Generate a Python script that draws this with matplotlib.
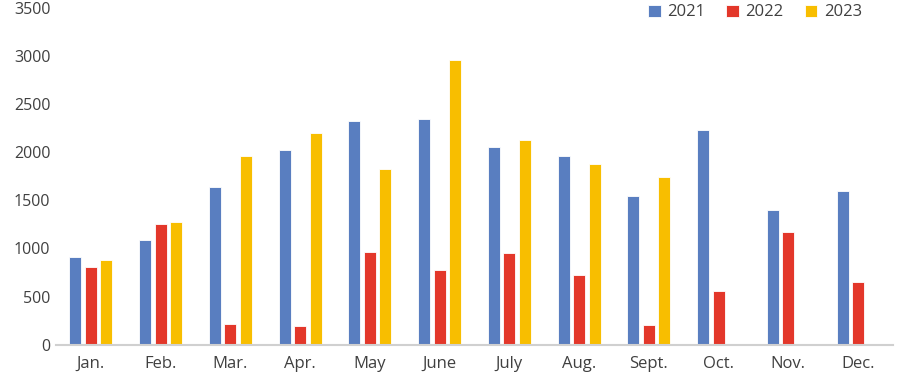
import matplotlib
matplotlib.use("Agg")
import matplotlib.pyplot as plt
import numpy as np

months = ["Jan.", "Feb.", "Mar.", "Apr.", "May", "June", "July", "Aug.", "Sept.", "Oct.", "Nov.", "Dec."]
series_names = ["2021", "2022", "2023"]
v2021 = [912, 1086, 1644, 2031, 2329, 2353, 2055, 1966, 1550, 2229, 1405, 1598]
v2022 = [808, 1255, 213, 192, 968, 781, 958, 719, 199, 556, 1176, 646]
v2023 = [878, 1280, 1966, 2205, 1823, 2959, 2125, 1883, 1748, np.nan, np.nan, np.nan]
colors = ["#597EC0", "#E3372A", "#F8BE00"]

plt.rcParams['font.family'] = ['Open Sans', 'DejaVu Sans']
fig = plt.figure(figsize=(8.99, 3.78), dpi=100)
ax = fig.add_axes([0.0623, 0.0886, 0.931, 0.889])

x = np.arange(len(months))
w = 0.17
step = 0.222
for i, (vals, c, name) in enumerate(zip([v2021, v2022, v2023], colors, series_names)):
    ax.bar(x + (i - 1) * step, vals, width=w, color=c, edgecolor="white", linewidth=0.6, label=name)

ax.set_xlim(-0.5, len(months) - 0.5)
ax.set_ylim(0, 3500)
ax.set_yticks(np.arange(0, 3501, 500))
ax.set_xticks(x)
ax.set_xticklabels(months)
ax.tick_params(axis='both', length=0, labelsize=12, colors="#404040")
ax.tick_params(axis='y', pad=4, labelsize=11.5)
ax.tick_params(axis='x', pad=8)
for s in ["top", "right", "left"]:
    ax.spines[s].set_visible(False)
ax.spines["bottom"].set_color("#D0D0D0")
ax.spines["bottom"].set_linewidth(1.5)

leg = fig.legend(loc="center", bbox_to_anchor=(0.840, 0.967), ncol=3, frameon=False,
                 handlelength=0.75, handleheight=0.75, handletextpad=0.4, columnspacing=1.25,
                 fontsize=12)
for t in leg.get_texts():
    t.set_color("#404040")

fig.savefig("out.png", dpi=100)
